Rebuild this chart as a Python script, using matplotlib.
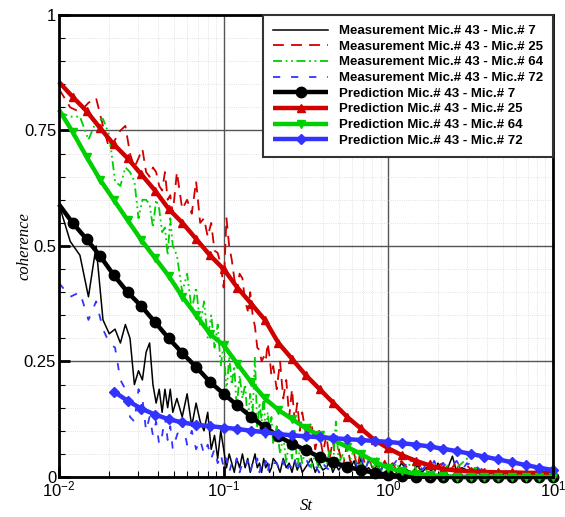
import numpy as np
import matplotlib.pyplot as plt
from matplotlib import ticker

plt.rcParams['font.family'] = 'Liberation Sans'
plt.rcParams['mathtext.default'] = 'regular'

# prediction grid (log spaced Strouhal numbers)
st_pred = [0.0100, 0.0121, 0.0147, 0.0178, 0.0215, 0.0261, 0.0316, 0.0383, 0.0464,
           0.0562, 0.0681, 0.0825, 0.100, 0.121, 0.147, 0.178, 0.215, 0.261, 0.316,
           0.383, 0.464, 0.562, 0.681, 0.825, 1.00, 1.21, 1.47, 1.78, 2.15, 2.61,
           3.16, 3.83, 4.64, 5.62, 6.81, 8.25, 10.0]

pred_7 = [0.59, 0.55, 0.515, 0.478, 0.437, 0.40, 0.37, 0.335, 0.30, 0.268, 0.238,
          0.206, 0.18, 0.155, 0.13, 0.108, 0.088, 0.072, 0.058, 0.043, 0.032, 0.022,
          0.015, 0.009, 0.005, 0.002, 0.001, 0.0, 0.0, 0.0, 0.0, 0.0, 0.0, 0.0, 0.0,
          0.0, 0.0]
pred_25 = [0.855, 0.823, 0.792, 0.755, 0.72, 0.69, 0.655, 0.62, 0.58, 0.55, 0.515,
           0.48, 0.45, 0.41, 0.375, 0.34, 0.29, 0.255, 0.22, 0.19, 0.16, 0.13, 0.105,
           0.08, 0.062, 0.047, 0.035, 0.025, 0.017, 0.014, 0.012, 0.011, 0.010, 0.010,
           0.009, 0.009, 0.009]
pred_64 = [0.795, 0.747, 0.693, 0.643, 0.60, 0.556, 0.513, 0.474, 0.435, 0.39, 0.35,
           0.31, 0.285, 0.245, 0.205, 0.17, 0.145, 0.125, 0.105, 0.09, 0.08, 0.065,
           0.05, 0.033, 0.02, 0.012, 0.007, 0.004, 0.002, 0.0, 0.0, 0.0, 0.0, 0.0,
           0.0, 0.0, 0.0]
# Mic 72 prediction starts at the fifth grid point
pred_72 = [0.185, 0.165, 0.148, 0.135, 0.125, 0.118, 0.113, 0.11, 0.107, 0.104, 0.10,
           0.097, 0.093, 0.09, 0.088, 0.086, 0.084, 0.082, 0.08, 0.078, 0.076, 0.073,
           0.07, 0.066, 0.061, 0.056, 0.05, 0.044, 0.038, 0.032, 0.026, 0.02, 0.015]

# measured coherence
st_meas = [0.0100, 0.0117, 0.0134, 0.0151, 0.0168, 0.0185, 0.0202, 0.0219, 0.0236,
           0.0253, 0.0270, 0.0287, 0.0304, 0.0321, 0.0338, 0.0355, 0.0372, 0.0389,
           0.0406, 0.0423, 0.0440, 0.0457, 0.0474, 0.0491,
           0.052, 0.056, 0.060, 0.064, 0.068, 0.072, 0.076, 0.080, 0.084, 0.088,
           0.092, 0.096, 0.100, 0.104, 0.108, 0.112, 0.116, 0.120, 0.125, 0.130,
           0.135, 0.140, 0.145, 0.150, 0.155, 0.160, 0.165, 0.170, 0.175, 0.180,
           0.185, 0.190, 0.195, 0.200,
           0.21, 0.22, 0.23, 0.24, 0.25, 0.26, 0.27, 0.28, 0.29, 0.30, 0.32, 0.34,
           0.36, 0.38, 0.40, 0.42, 0.44, 0.46, 0.48, 0.50, 0.53, 0.56, 0.59, 0.62,
           0.65, 0.68, 0.72, 0.76, 0.80, 0.85, 0.90, 0.95, 1.00,
           1.06, 1.12, 1.2, 1.3, 1.4, 1.5, 1.6, 1.7, 1.8, 1.9, 2.0, 2.15, 2.3, 2.45,
           2.6, 2.8, 3.0, 3.2, 3.4, 3.6, 3.8, 4.0]

meas_7 = [0.59, 0.51, 0.48, 0.39, 0.50, 0.34, 0.31, 0.32, 0.29, 0.33, 0.30, 0.20,
          0.23, 0.21, 0.27, 0.29, 0.20, 0.16, 0.19, 0.14, 0.19, 0.15, 0.19, 0.14,
          0.17, 0.13, 0.18, 0.11, 0.16, 0.12, 0.10, 0.14, 0.06, 0.09, 0.04, 0.10,
          0.06, 0.02, 0.05, 0.03, 0.01, 0.04, 0.02, 0.05, 0.02, 0.04, 0.01, 0.03,
          0.05, 0.02, 0.03, 0.01, 0.04, 0.02, 0.03, 0.01, 0.02, 0.04,
          0.03, 0.01, 0.04, 0.02, 0.03, 0.01, 0.035, 0.015, 0.03, 0.01, 0.025, 0.04,
          0.01, 0.03, 0.015, 0.02, 0.035, 0.01, 0.025, 0.015, 0.03, 0.01, 0.02,
          0.035, 0.01, 0.04, 0.015, 0.02, 0.01, 0.025, 0.015, 0.03, 0.01,
          0.02, 0.01, 0.03, 0.015, 0.01, 0.025, 0.01, 0.02, 0.015, 0.01, 0.03, 0.01,
          0.02, 0.045, 0.01, 0.02, 0.015, 0.01, 0.02, 0.01, 0.015, 0.01]
meas_25 = [0.84, 0.80, 0.79, 0.81, 0.82, 0.76, 0.71, 0.73, 0.75, 0.76, 0.70, 0.67,
           0.69, 0.71, 0.66, 0.65, 0.67, 0.66, 0.63, 0.62, 0.66, 0.60, 0.61, 0.57,
           0.66, 0.58, 0.60, 0.57, 0.64, 0.55, 0.56, 0.52, 0.55, 0.49, 0.485, 0.46,
           0.41, 0.56, 0.50, 0.47, 0.43, 0.40, 0.44, 0.43, 0.38, 0.36, 0.40, 0.35,
           0.325, 0.28, 0.275, 0.25, 0.26, 0.25, 0.29, 0.26, 0.22, 0.24,
           0.19, 0.25, 0.17, 0.21, 0.13, 0.19, 0.12, 0.16, 0.10, 0.14, 0.08, 0.12,
           0.06, 0.10, 0.05, 0.09, 0.04, 0.08, 0.03, 0.06, 0.02, 0.07, 0.03, 0.05,
           0.02, 0.06, 0.03, 0.04, 0.02, 0.04, 0.015, 0.035, 0.02,
           0.03, 0.015, 0.035, 0.02, 0.04, 0.015, 0.03, 0.02, 0.035, 0.01, 0.025,
           0.03, 0.015, 0.02, 0.035, 0.01, 0.025, 0.015, 0.02, 0.01, 0.015, 0.01]
meas_64 = [0.79, 0.78, 0.78, 0.73, 0.77, 0.775, 0.74, 0.64, 0.63, 0.67, 0.66, 0.64,
           0.56, 0.60, 0.60, 0.59, 0.54, 0.60, 0.58, 0.53, 0.54, 0.48, 0.56, 0.50,
           0.48, 0.40, 0.44, 0.36, 0.41, 0.33, 0.38, 0.30, 0.35, 0.28, 0.33, 0.24,
           0.29, 0.18, 0.26, 0.20, 0.24, 0.15, 0.22, 0.17, 0.20, 0.12, 0.18, 0.14,
           0.26, 0.10, 0.16, 0.12, 0.18, 0.08, 0.14, 0.10, 0.13, 0.07,
           0.11, 0.05, 0.09, 0.03, 0.08, 0.04, 0.10, 0.02, 0.06, 0.03, 0.07, 0.02,
           0.05, 0.01, 0.04, 0.02, 0.06, 0.02, 0.12, 0.03, 0.05, 0.01, 0.04, 0.06,
           0.02, 0.03, 0.01, 0.04, 0.02, 0.03, 0.01, 0.03, 0.02,
           0.015, 0.03, 0.01, 0.02, 0.035, 0.01, 0.02, 0.015, 0.03, 0.01, 0.02,
           0.015, 0.025, 0.01, 0.02, 0.03, 0.04, 0.015, 0.02, 0.01, 0.015, 0.005]
meas_72 = [0.42, 0.39, 0.40, 0.34, 0.38, 0.32, 0.29, 0.28, 0.21, 0.19, 0.13, 0.12,
           0.19, 0.17, 0.10, 0.13, 0.09, 0.12, 0.07, 0.09, 0.13, 0.08, 0.11, 0.06,
           0.09, 0.12, 0.07, 0.10, 0.06, 0.08, 0.05, 0.07, 0.04, 0.06, 0.03, 0.05,
           0.02, 0.04, 0.01, 0.03, 0.02, 0.04, 0.01, 0.03, 0.02, 0.035, 0.01, 0.03,
           0.02, 0.04, 0.01, 0.03, 0.02, 0.035, 0.01, 0.03, 0.02, 0.03,
           0.03, 0.015, 0.035, 0.01, 0.025, 0.02, 0.04, 0.01, 0.03, 0.02, 0.035,
           0.015, 0.025, 0.01, 0.03, 0.02, 0.015, 0.035, 0.01, 0.025, 0.02, 0.03,
           0.015, 0.04, 0.02, 0.045, 0.015, 0.035, 0.02, 0.04, 0.015, 0.03, 0.02,
           0.025, 0.035, 0.015, 0.03, 0.02, 0.04, 0.015, 0.025, 0.02, 0.035, 0.015,
           0.03, 0.02, 0.025, 0.035, 0.015, 0.03, 0.02, 0.025, 0.015, 0.02, 0.01]

RED = '#D00000'
GREEN = '#00D000'
BLUE = '#3333FF'

fig = plt.figure(figsize=(5.65, 5.17), dpi=100)
ax = fig.add_axes([0.1044, 0.0774, 0.8744, 0.8936])

# measurements
ax.plot(st_meas, meas_7, color='k', lw=1.1, label='Measurement Mic.# 43 - Mic.# 7')
ax.plot(st_meas, meas_25, color=RED, lw=1.3, dashes=(6, 4),
        label='Measurement Mic.# 43 - Mic.# 25')
ax.plot(st_meas, meas_64, color=GREEN, lw=1.3, dashes=(5, 2, 1, 2, 1, 2),
        label='Measurement Mic.# 43 - Mic.# 64')
ax.plot(st_meas, meas_72, color=BLUE, lw=1.3, dashes=(4, 6),
        label='Measurement Mic.# 43 - Mic.# 72')

# predictions: first grid point has no symbol
pred_style = dict(lw=3.2, clip_on=False, solid_capstyle='butt')
ax.plot(st_pred[:2], pred_7[:2], color='k', **pred_style)
ax.plot(st_pred[1:], pred_7[1:], color='k', marker='o', ms=7.5,
        label='Prediction Mic.# 43 - Mic.# 7', **pred_style)
ax.plot(st_pred[:2], pred_25[:2], color=RED, **pred_style)
ax.plot(st_pred[1:], pred_25[1:], color=RED, marker='^', ms=6,
        label='Prediction Mic.# 43 - Mic.# 25', **pred_style)
ax.plot(st_pred[:2], pred_64[:2], color=GREEN, **pred_style)
ax.plot(st_pred[1:], pred_64[1:], color=GREEN, marker='v', ms=6,
        label='Prediction Mic.# 43 - Mic.# 64', **pred_style)
ax.plot(st_pred[4:], pred_72, color=BLUE, marker='D', ms=5.5,
        label='Prediction Mic.# 43 - Mic.# 72', **pred_style)

ax.set_xscale('log')
ax.set_xlim(0.01, 10)
ax.set_ylim(0, 1)
ax.yaxis.set_major_locator(ticker.MultipleLocator(0.25))
ax.yaxis.set_minor_locator(ticker.MultipleLocator(0.05))
ax.yaxis.set_major_formatter(ticker.FormatStrFormatter('%g'))
ax.xaxis.set_minor_formatter(ticker.NullFormatter())

ax.grid(True, which='major', color='#555555', lw=1.0)
ax.grid(True, which='minor', color='#d8d8d8', lw=0.6, ls=':')
ax.set_axisbelow(True)

ax.tick_params(which='both', direction='in', top=False, right=False,
               labelsize=12, pad=2)
ax.tick_params(which='major', length=8, width=2)
ax.tick_params(which='minor', length=4, width=0.8)
for s in ax.spines.values():
    s.set_linewidth(2)
    s.set_zorder(5)

ax.set_xlabel('St', family='Liberation Serif', style='italic', fontsize=12,
              labelpad=-1)
ax.set_ylabel('coherence', family='Liberation Serif', style='italic', fontsize=12,
              labelpad=-6)

leg = ax.legend(loc='upper right', bbox_to_anchor=(1, 1), borderaxespad=0,
                fancybox=False, framealpha=1, edgecolor='#333333', numpoints=1,
                prop={'weight': 'bold', 'size': 9.5}, handlelength=4.2,
                labelspacing=0.26, borderpad=0.75, handletextpad=0.8)
leg.get_frame().set_linewidth(1.5)
leg.set_zorder(10)

fig.savefig('out.png', dpi=100)
